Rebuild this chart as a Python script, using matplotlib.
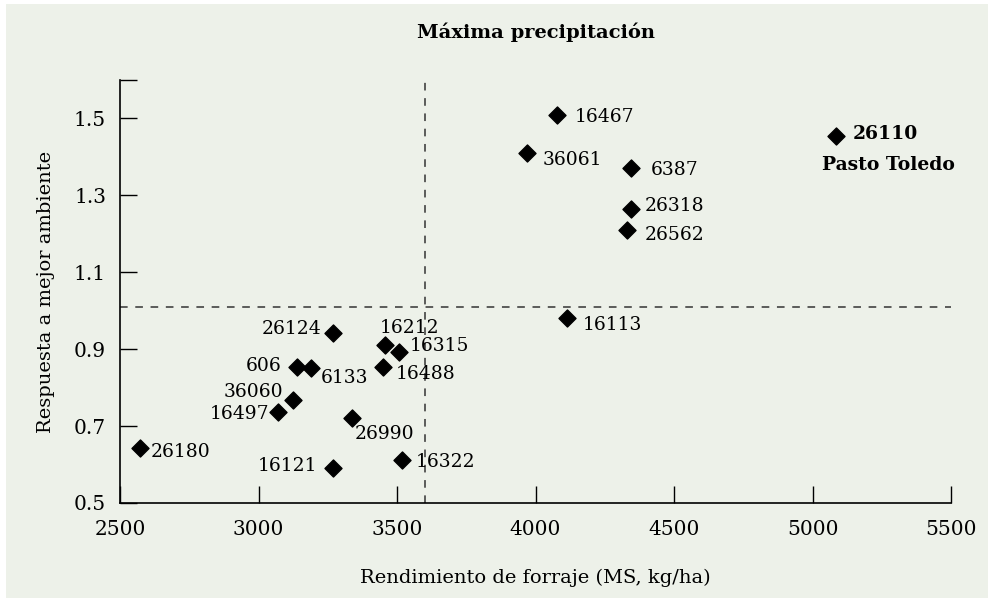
import matplotlib
matplotlib.use('Agg')
import matplotlib.pyplot as plt
from matplotlib.patches import Rectangle

plt.rcParams['font.family'] = ['DejaVu Serif']

# forage yield (x) vs response to best environment (y)
codes = ['26180', '16121', '16322', '26990', '36060', '16497', '606', '6133',
         '26124', '16212', '16315', '16488', '16467', '36061', '6387',
         '26318', '26562', '16113', '26110']
rendimiento = [2572, 3269, 3518, 3338, 3125, 3070, 3139, 3190,
               3269, 3457, 3507, 3449, 4078, 3969, 4345,
               4345, 4330, 4114, 5085]
respuesta = [0.644, 0.592, 0.613, 0.722, 0.767, 0.736, 0.853, 0.851,
             0.942, 0.911, 0.893, 0.853, 1.508, 1.411, 1.372,
             1.264, 1.209, 0.982, 1.455]

x_ref = 3600   # mean yield (vertical dashed line)
y_ref = 1.01   # mean response (horizontal dashed line)

x_ticks = [2500, 3000, 3500, 4000, 4500, 5000, 5500]
y_ticks = [0.5, 0.7, 0.9, 1.1, 1.3, 1.5]

# label offsets in points and alignment, per code
offsets = {
    '26180': (8, -3, 'left'), '16121': (-11, 1, 'right'), '16322': (10, -2, 'left'),
    '26990': (2, -12, 'left'), '36060': (-7, 6, 'right'), '16497': (-6, -1, 'right'),
    '606': (-11, 1, 'right'), '6133': (7, -7, 'left'), '26124': (-8, 3, 'right'),
    '16212': (-4, 12, 'left'), '16315': (8, 4, 'left'), '16488': (9, -5, 'left'),
    '16467': (13, -1, 'left'), '36061': (11, -5, 'left'), '6387': (14, -2, 'left'),
    '26318': (10, 2, 'left'), '26562': (13, -3, 'left'), '16113': (11, -5, 'left'),
}

bg = '#edf1e9'
fig = plt.figure(figsize=(9.88, 5.98), dpi=100, facecolor='white')
fig.patches.append(Rectangle((6 / 988, 0), 1, 1 - 4 / 598, transform=fig.transFigure,
                             facecolor=bg, edgecolor='none', zorder=-10))
ax = fig.add_axes([120 / 988, 1 - 503 / 598, 831 / 988, 423 / 598])
ax.set_facecolor(bg)

ax.scatter(rendimiento, respuesta, marker='D', s=75, color='black', zorder=3)
ax.axvline(x_ref, color='#333333', lw=1.1, ls=(0, (5, 5)), zorder=1)
ax.axhline(y_ref, color='#333333', lw=1.1, ls=(0, (5, 5)), zorder=1)

for c, x, y in zip(codes, rendimiento, respuesta):
    if c == '26110':
        ax.annotate(c, (x, y), xytext=(12, 1), textcoords='offset points',
                    ha='left', va='center', fontsize=13.5, fontweight='bold')
        ax.annotate('Pasto Toledo', (x, y), xytext=(38, -21), textcoords='offset points',
                    ha='center', va='center', fontsize=13.5, fontweight='bold')
        continue
    dx, dy, ha = offsets[c]
    ax.annotate(c, (x, y), xytext=(dx, dy), textcoords='offset points',
                ha=ha, va='center', fontsize=13.5)

ax.set_xlim(2500, 5500)
ax.set_ylim(0.5, 1.6)
ax.set_xticks(x_ticks)
ax.set_yticks(y_ticks + [1.6])
ax.set_yticklabels([str(v) for v in y_ticks] + [''])
ax.tick_params(direction='in', length=12, width=1, labelsize=14.5, pad=10)
ax.tick_params(axis='x', pad=12)
for s in ['top', 'right']:
    ax.spines[s].set_visible(False)
for s in ['left', 'bottom']:
    ax.spines[s].set_linewidth(1.2)

ax.set_xlabel('Rendimiento de forraje (MS, kg/ha)', fontsize=14, labelpad=22)
ax.set_ylabel('Respuesta a mejor ambiente', fontsize=14, labelpad=14)
ax.set_title('Máxima precipitación', fontsize=14, fontweight='bold', pad=30)

fig.savefig('out.png', dpi=100, facecolor='white')
